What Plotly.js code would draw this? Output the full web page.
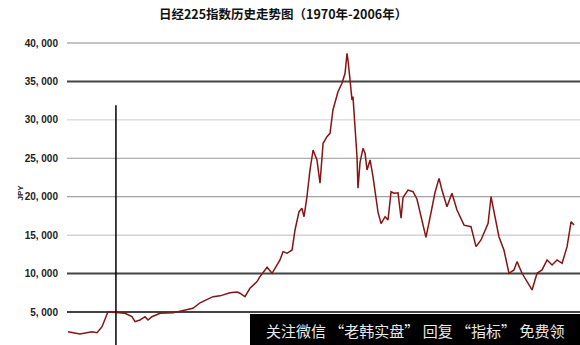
<!DOCTYPE html>
<html>
<head>
<meta charset="utf-8">
<script src="https://cdn.plot.ly/plotly-3.0.1.min.js"></script>
<style>
html,body{margin:0;padding:0;background:#fff;}
#chart{width:580px;height:345px;}
</style>
</head>
<body>
<div id="chart"></div>
<script>
// Nikkei 225 index (approximate)
const years = [
  1970.00, 1970.86, 1971.73, 1972.09, 1972.45, 1972.88, 1973.24, 1973.60, 1974.10, 1974.60,
  1974.82, 1975.18, 1975.54, 1975.76, 1976.04, 1976.62, 1977.55, 1978.06, 1978.99, 1979.50,
  1980.00, 1980.43, 1980.94, 1981.65, 1982.16, 1982.37, 1982.73, 1983.09, 1983.60, 1983.81,
  1984.32, 1984.68, 1985.25, 1985.47, 1985.76, 1986.12, 1986.33, 1986.62, 1986.83, 1986.98,
  1987.19, 1987.41, 1987.63, 1987.91, 1988.13, 1988.35, 1988.63, 1988.85, 1989.06, 1989.42,
  1989.71, 1989.93, 1990.07, 1990.14, 1990.29, 1990.43, 1990.50, 1990.65, 1990.79, 1990.86,
  1991.01, 1991.22, 1991.37, 1991.51, 1991.73, 1991.94, 1992.09, 1992.30, 1992.52, 1992.81,
  1993.02, 1993.24, 1993.45, 1993.74, 1993.96, 1994.10, 1994.46, 1994.82, 1995.10, 1995.39,
  1995.75, 1996.11, 1996.40, 1996.69, 1996.90, 1997.26, 1997.62, 1997.98, 1998.49, 1998.99,
  1999.35, 1999.71, 2000.22, 2000.43, 2000.79, 2001.00, 2001.36, 2001.72, 2002.08, 2002.30,
  2002.66, 2003.02, 2003.38, 2003.74, 2004.10, 2004.46, 2004.82, 2005.18, 2005.54, 2005.90,
  2006.19, 2006.40
];
const nikkei = [
  2440, 2140, 2440, 2310, 3090, 5040, 4960, 4910, 4830, 4390,
  3740, 3960, 4390, 3960, 4390, 4830, 4910, 5100, 5480, 6200,
  6600, 7000, 7100, 7500, 7600, 7440, 7000, 8090, 8950, 9600,
  10820, 10040, 11770, 12850, 12640, 13070, 15670, 18050, 18490, 17400,
  20000, 23480, 26080, 24780, 21750, 26950, 27810, 28250, 31280, 33660,
  34760, 36060, 38660, 37790, 35190, 32590, 33020, 29500, 25210, 21100,
  24500, 26300, 25650, 23480, 24780, 22610, 20870, 18000, 16500, 17400,
  16970, 20650, 20450, 20500, 17200, 19900, 20870, 20650, 19700, 17500,
  14700, 17900, 20550, 22390, 20870, 18700, 20450, 18270, 16300, 16100,
  13500, 14370, 16540, 20000, 16970, 14800, 13070, 10040, 10470, 11550,
  10040, 8950, 7870, 10040, 10470, 11770, 11120, 11770, 11340, 13500,
  16750, 16320
];
const tickVals = [5000, 10000, 15000, 20000, 25000, 30000, 35000, 40000];
const tickLabels = ["5, 000", "10, 000", "15, 000", "20, 000", "25, 000", "30, 000", "35, 000", "40, 000"];
const markerYear = 1973.45;
const markerTop = 31900;

// gridline styles per tick (presentation only)
const gridColors = ["#444", "#444", "#bbb", "#8a8a8a", "#999", "#ccc", "#444", "#8a8a8a"];
const gridWidths = [2, 2, 1, 1, 1, 1, 2, 1];

const shapes = tickVals.map((v, i) => ({
  type: "line", xref: "paper", x0: 0, x1: 1, yref: "y", y0: v, y1: v,
  line: {color: gridColors[i], width: gridWidths[i]}, layer: "below"
}));
shapes.push({
  type: "line", xref: "x", x0: markerYear, x1: markerYear, yref: "y", y0: markerTop, y1: 0,
  line: {color: "#000", width: 1.5}, layer: "above"
});
shapes.push({
  type: "rect", xref: "paper", x0: 0.3567, x1: 1.01, yref: "paper", y0: -0.02, y1: 0.1016,
  line: {width: 0}, fillcolor: "#000", layer: "above"
});

const trace = {
  x: years, y: nikkei, type: "scatter", mode: "lines",
  line: {color: "#861414", width: 1.5}, hoverinfo: "skip"
};

const layout = {
  width: 580, height: 345,
  margin: {l: 67, r: 0, t: 40, b: 0},
  paper_bgcolor: "#fff", plot_bgcolor: "#fff",
  showlegend: false,
  title: {
    text: "日经225指数历史走势图（1970年-2006年）",
    font: {family: "Noto Sans CJK SC", size: 12.5, color: "#111", weight: 700},
    xref: "container", x: 0.488, xanchor: "center",
    yref: "container", y: 0.958, yanchor: "middle"
  },
  xaxis: {range: [1969.93, 2006.83], visible: false, showgrid: false, zeroline: false},
  yaxis: {
    range: [707, 40390], showgrid: false, zeroline: false, showline: false, ticks: "",
    tickvals: tickVals, ticktext: tickLabels, ticklabelstandoff: 8,
    tickfont: {family: "Liberation Sans", size: 10, color: "#222", weight: 700}
  },
  shapes: shapes,
  annotations: [
    {text: "JPY", xref: "paper", x: -0.0916, yref: "paper", y: 0.5, showarrow: false,
     textangle: -90, font: {family: "Liberation Sans", size: 8, color: "#222", weight: 700},
     xanchor: "center", yanchor: "middle"},
    {text: "关注微信 “老韩实盘” 回复 “指标” 免费领", xref: "paper", x: 0.678, yref: "paper", y: 0.049,
     showarrow: false, font: {family: "Noto Sans CJK SC", size: 15, color: "#e8e8e8"},
     xanchor: "center", yanchor: "middle"}
  ]
};

Plotly.newPlot("chart", [trace], layout, {staticPlot: true, displayModeBar: false});
</script>
</body>
</html>
